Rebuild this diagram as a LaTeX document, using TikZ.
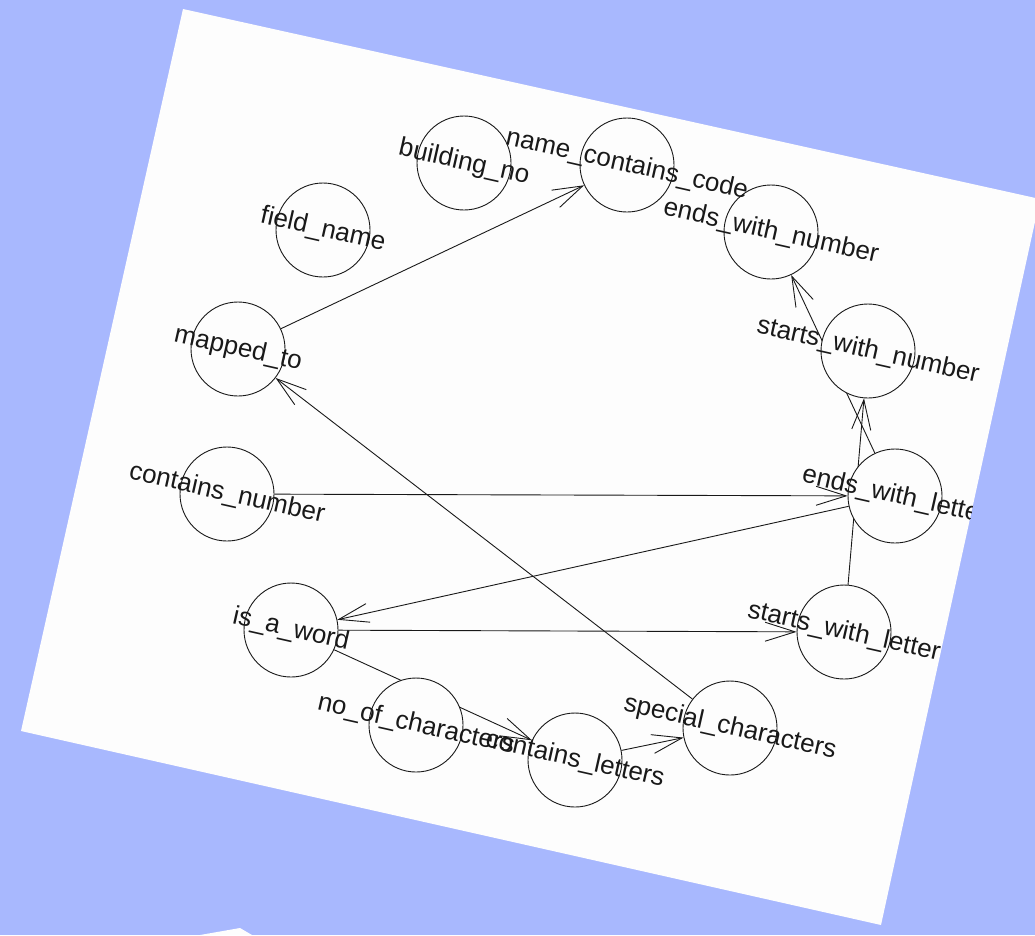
\documentclass[tikz,border=0pt]{standalone}
\usepackage{fontspec}
\setmainfont{Liberation Sans}
\usetikzlibrary{arrows.meta}
\definecolor{bgblue}{RGB}{168,184,254}
\definecolor{pagewhite}{RGB}{253,253,253}
\definecolor{inkc}{RGB}{25,25,25}
\pgfdeclarelayer{pagelayer}
\pgfdeclarelayer{edgelayer}
\pgfsetlayers{pagelayer,edgelayer,main}
\begin{document}
\begin{tikzpicture}[x=1pt,y=-1pt,
  vtx/.style={circle,draw=inkc,line width=0.9pt,fill=pagewhite,minimum size=94pt,inner sep=0pt},
  lbl/.style={font=\fontsize{26}{30}\selectfont,rotate=-12.7,inner sep=0pt,text=inkc},
  conn/.style={line width=0.9pt,draw=inkc},
  arr/.style={conn,-{Straight Barb[length=30pt,width=19pt,line width=0.9pt]}}]
\useasboundingbox (0,0) rectangle (1035,935);
\begin{pgfonlayer}{pagelayer}
  \fill[bgblue] (0,0) rectangle (1035,935);
  \fill[pagewhite] (183,9) -- (1040,199) -- (881,925) -- (21,731) -- cycle;
  \fill[pagewhite] (200,935) -- (240,928) -- (252,935) -- cycle;
\end{pgfonlayer}
% vertices
\node[vtx] (bn)  at (464,163) {};
\node[vtx] (ncc) at (627,165) {};
\node[vtx] (ewn) at (771,232) {};
\node[vtx] (swn) at (868,351) {};
\node[vtx] (fn)  at (323,230) {};
\node[vtx] (mt)  at (238,349) {};
\node[vtx] (cn)  at (227,494) {};
\node[vtx] (ewl) at (895,496) {};
\node[vtx] (swl) at (844,632) {};
\node[vtx] (iaw) at (291,630) {};
\node[vtx] (noc) at (416,725) {};
\node[vtx] (cl)  at (575,760) {};
\node[vtx] (sc)  at (730,728) {};
% edges
\begin{pgfonlayer}{edgelayer}
  \draw[arr] (mt) -- (ncc);
  \draw[arr] (sc) -- (mt);
  \draw[arr] (ewl) -- (ewn);
  \draw[arr] (swl) -- (swn);
  \draw[arr] (cn) -- (ewl);
  \draw[arr] (ewl) -- (iaw);
  \draw[arr] (iaw) -- (swl);
  \draw[arr] (iaw) -- (cl);
  \draw[arr] (cl) -- (sc);
\end{pgfonlayer}
% labels, clipped to the page
\begin{scope}
\clip (183,9) -- (1040,199) -- (881,925) -- (21,731) -- cycle;
\node[lbl] (bnl)  at (bn)  {building\_no};
\node[lbl] (nccl) at (ncc) {name\_contains\_code};
\node[lbl] (ewnl) at (ewn) {ends\_with\_number};
\node[lbl] (swnl) at (swn) {starts\_with\_number};
\node[lbl] (fnl)  at (fn)  {field\_name};
\node[lbl] (mtl)  at (mt)  {mapped\_to};
\node[lbl] (cnl)  at (cn)  {contains\_number};
\node[lbl] (ewll) at (ewl) {ends\_with\_letter};
\node[lbl] (swll) at (swl) {starts\_with\_letter};
\node[lbl] (iawl) at (iaw) {is\_a\_word};
\node[lbl] (nocl) at (noc) {no\_of\_characters};
\node[lbl] (cll)  at (cl)  {contains\_letters};
\node[lbl] (scl)  at (sc)  {special\_characters};
\end{scope}
\end{tikzpicture}
\end{document}
